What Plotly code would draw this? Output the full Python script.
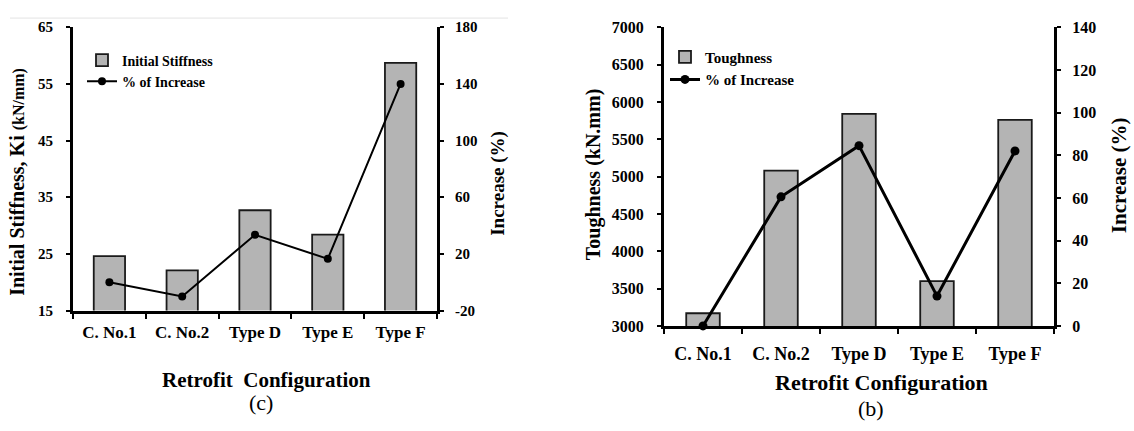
import plotly.graph_objects as go

# ---- data ----
categories = ["C. No.1", "C. No.2", "Type D", "Type E", "Type F"]
stiffness = [24.6, 22.1, 32.7, 28.4, 58.7]          # kN/mm
stiffness_increase = [0, -10, 33.5, 16.5, 140]       # %
toughness = [3170, 5080, 5840, 3600, 5760]           # kN.mm
toughness_increase = [0, 60.5, 84.5, 14, 82]         # %
stiff_inc_ticks = [-20, 20, 60, 100, 140, 180]
stiff_inc_ticktext = ["-20", "20", "60", "100", "140", "180"]

W, H = 1134, 431
FONT = "Liberation Serif"
BAR_FILL = "#b4b4b4"
BAR_LINE = "#1a1a1a"


def px(x):
    return x / W


def py(y):
    return 1 - y / H


fig = go.Figure()

# ---- left chart (c) ----
fig.add_trace(go.Bar(
    x=categories, y=stiffness, name="Initial Stiffness",
    xaxis="x", yaxis="y", width=0.43,
    marker=dict(color=BAR_FILL, line=dict(color=BAR_LINE, width=1.8)),
    legend="legend",
))
fig.add_trace(go.Scatter(
    x=categories, y=stiffness_increase, name="% of Increase",
    xaxis="x", yaxis="y2", mode="lines+markers",
    line=dict(color="black", width=2),
    marker=dict(color="black", size=8, symbol="circle"),
    cliponaxis=False, legend="legend",
))

# ---- right chart (b) ----
fig.add_trace(go.Bar(
    x=categories, y=toughness, name="Toughness",
    xaxis="x2", yaxis="y3", width=0.43,
    marker=dict(color=BAR_FILL, line=dict(color=BAR_LINE, width=1.8)),
    legend="legend2",
))
fig.add_trace(go.Scatter(
    x=categories, y=toughness_increase, name="% of Increase",
    xaxis="x2", yaxis="y4", mode="lines+markers",
    line=dict(color="black", width=3),
    marker=dict(color="black", size=9, symbol="circle"),
    cliponaxis=False, legend="legend2",
))

bold = dict(family=FONT, color="black", weight="bold")


def yax(anchor, rng, dtick, side, size, standoff, overlay=None):
    d = dict(
        range=rng, dtick=dtick, tick0=rng[0], showgrid=False, zeroline=False,
        showline=True, linewidth=3, linecolor="black",
        ticks="outside", ticklen=4, tickwidth=2, tickcolor="black",
        tickfont=dict(size=size, **bold), side=side,
        ticklabelstandoff=standoff, anchor=anchor,
    )
    if overlay:
        d["overlaying"] = overlay
    return d


left_x = [px(73), px(437)]
left_y = [py(315), py(20)]
right_x = [px(664), px(1054)]
right_y = [py(331), py(20)]

xcommon = dict(
    type="category", showgrid=False, zeroline=False, showline=True,
    linewidth=3, linecolor="black", ticks="outside", tickson="boundaries",
    ticklen=5, tickwidth=2, tickcolor="black",
)

y2 = yax("x", [-20, 180], 40, "right", 15, 8, overlay="y")
y2.update(tickmode="array", tickvals=stiff_inc_ticks, ticktext=stiff_inc_ticktext)

fig.update_layout(
    width=W, height=H, autosize=False,
    margin=dict(l=0, r=0, t=0, b=0),
    paper_bgcolor="white", plot_bgcolor="white",
    font=dict(family=FONT, color="black"),
    xaxis=dict(domain=left_x, anchor="y", tickfont=dict(size=17, **bold),
               ticklabelstandoff=4, **xcommon),
    yaxis=dict(domain=left_y, **yax("x", [15, 65], 10, "left", 15, 10)),
    yaxis2=y2,
    xaxis2=dict(domain=right_x, anchor="y3", tickfont=dict(size=18, **bold),
                ticklabelstandoff=9, **xcommon),
    yaxis3=dict(domain=right_y, **yax("x2", [3000, 7000], 500, "left", 16, 10)),
    yaxis4=dict(**yax("x2", [0, 140], 20, "right", 16, 8, overlay="y3")),
    legend=dict(x=px(82), y=py(38), xanchor="left", yanchor="top",
                bgcolor="rgba(0,0,0,0)", font=dict(size=14, **bold),
                itemwidth=30, tracegroupgap=0, traceorder="normal"),
    legend2=dict(x=px(665), y=py(34), xanchor="left", yanchor="top",
                 bgcolor="rgba(0,0,0,0)", font=dict(size=15, **bold),
                 itemwidth=30, tracegroupgap=0, traceorder="normal"),
    showlegend=True,
)

annotations = [
    dict(text="Initial Stiffness, Ki <span style='font-size:16px'>(kN/mm)</span>",
         x=px(17), y=py(181), textangle=-90, font=dict(size=20, **bold)),
    dict(text="Increase (%)", x=px(498), y=py(183), textangle=-90,
         font=dict(size=19, **bold)),
    dict(text="Retrofit&nbsp;&nbsp;Configuration", x=px(266), y=py(387),
         font=dict(size=21, **bold)),
    dict(text="(c)", x=px(261), y=py(411),
         font=dict(size=22, family=FONT, color="black")),
    dict(text="Toughness (kN.mm)", x=px(593), y=py(173), textangle=-90,
         font=dict(size=20, **bold)),
    dict(text="Increase (%)", x=px(1119), y=py(174), textangle=-90,
         font=dict(size=21, **bold)),
    dict(text="Retrofit Configuration", x=px(881), y=py(390),
         font=dict(size=22, **bold)),
    dict(text="(b)", x=px(871), y=py(417),
         font=dict(size=22, family=FONT, color="black")),
]
for a in annotations:
    a.update(xref="paper", yref="paper", showarrow=False,
             xanchor="center", yanchor="middle")
fig.update_layout(annotations=annotations)

fig.add_shape(type="line", xref="paper", yref="paper",
              x0=px(10), x1=px(508), y0=py(10.5), y1=py(10.5),
              line=dict(color="#e3e3e3", width=1))

fig.write_html(
    "out.html",
    config={"displayModeBar": False},
    post_script="document.body.style.margin='0px';document.body.style.overflow='hidden';",
)
